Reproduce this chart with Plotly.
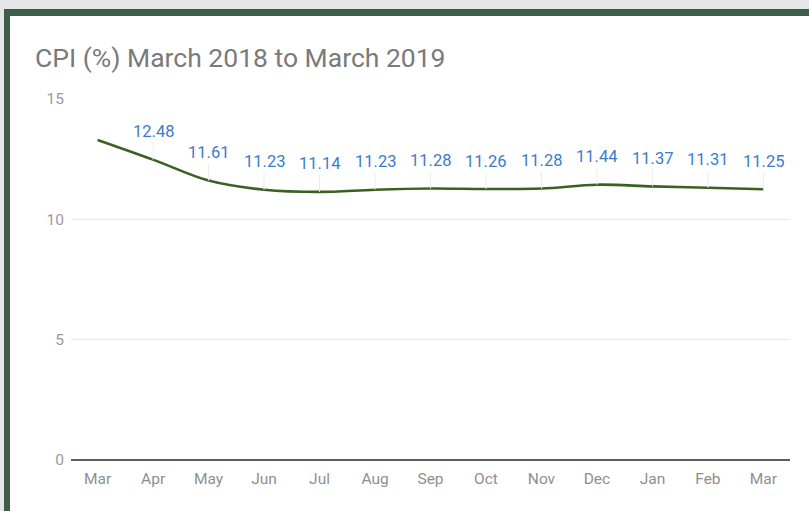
import plotly.graph_objects as go

months = ["Mar", "Apr", "May", "Jun", "Jul", "Aug", "Sep", "Oct", "Nov", "Dec", "Jan", "Feb", "Mar"]
cpi = [13.3, 12.48, 11.61, 11.23, 11.14, 11.23, 11.28, 11.26, 11.28, 11.44, 11.37, 11.31, 11.25]
label_flags = [False] + [True] * 12
y_ticks = [0, 5, 10, 15]

W, H = 809, 511
L, R, T, B = 71, 19, 99, 51
pw, ph = W - L - R, H - T - B

def px_x(x):
    return (x - L) / pw

def px_y(y):
    return (H - B - y) / ph

xs = list(range(len(months)))

fig = go.Figure()
fig.add_trace(go.Scatter(
    x=xs, y=cpi, mode="lines",
    line=dict(color="#3b6122", width=2.6, shape="spline", smoothing=1.0),
    hoverinfo="skip", showlegend=False,
))

for i, (v, show) in enumerate(zip(cpi, label_flags)):
    if not show:
        continue
    fig.add_annotation(
        x=i, y=v, xref="x", yref="y",
        text=f"{v:.2f}", showarrow=True, ax=0, ay=-28,
        arrowhead=0, arrowwidth=1, arrowcolor="#ececec", standoff=0,
        font=dict(family="Roboto", size=16.5, color="#3a7ccb"),
    )

shapes = [
    dict(type="rect", xref="paper", yref="paper", x0=px_x(0), x1=px_x(W), y0=px_y(0), y1=px_y(9),
         fillcolor="#e5e6e8", line=dict(width=0), layer="below"),
    dict(type="rect", xref="paper", yref="paper", x0=px_x(0), x1=px_x(4), y0=px_y(9), y1=px_y(H),
         fillcolor="#e5e6e8", line=dict(width=0), layer="below"),
    dict(type="rect", xref="paper", yref="paper", x0=px_x(4), x1=px_x(W), y0=px_y(9), y1=px_y(16),
         fillcolor="#3e5e49", line=dict(width=0), layer="below"),
    dict(type="rect", xref="paper", yref="paper", x0=px_x(4), x1=px_x(10), y0=px_y(9), y1=px_y(H),
         fillcolor="#3e5e49", line=dict(width=0), layer="below"),
]

fig.update_layout(
    width=W, height=H,
    margin=dict(l=L, r=R, t=T, b=B, pad=0),
    paper_bgcolor="white", plot_bgcolor="white",
    shapes=shapes,
    title=dict(text="CPI (%) March 2018 to March 2019", x=35 / W, xanchor="left",
               y=1 - 58 / H, yanchor="middle",
               font=dict(family="Roboto", size=26.5, color="#7a7a7a")),
    xaxis=dict(
        range=[-0.48, 12.48], tickmode="array", tickvals=xs, ticktext=months,
        showgrid=False, zeroline=False, showline=False, ticks="",
        ticklabelstandoff=7,
        tickfont=dict(family="Roboto", size=15.5, color="#8f8f8f"),
    ),
    yaxis=dict(
        range=[0, 15], tickmode="array", tickvals=y_ticks,
        showgrid=True, gridcolor="#e6e6e6", gridwidth=1,
        zeroline=True, zerolinecolor="#56625b", zerolinewidth=1.5,
        showline=False, ticks="",
        ticklabelstandoff=6,
        tickfont=dict(family="Roboto", size=15.5, color="#9a9a9a"),
    ),
)

fig.write_html("out.html", config={"displayModeBar": False},
               post_script="document.body.style.margin='0';")
